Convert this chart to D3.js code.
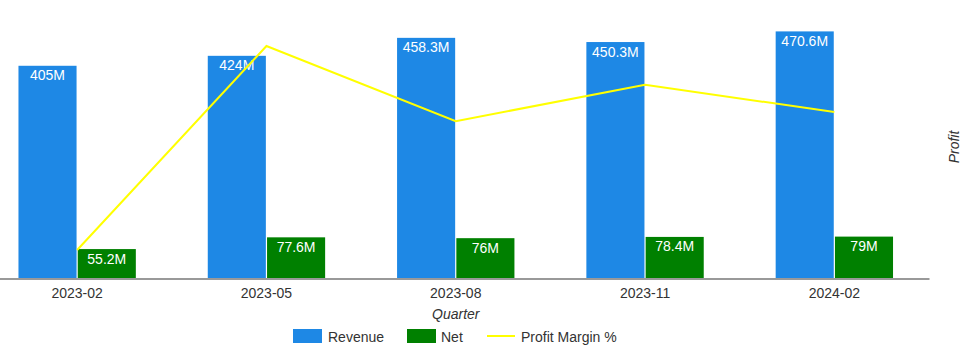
<!DOCTYPE html>
<html><head><meta charset="utf-8">
<script src="https://cdn.jsdelivr.net/npm/d3@7"></script>
<style>
body{margin:0;background:#fff;}
svg{display:block;font-family:"Liberation Sans",Arial,sans-serif;}
</style></head>
<body>
<svg id="chart" width="975" height="362"></svg>
<script>
const quarters = ["2023-02","2023-05","2023-08","2023-11","2024-02"];
const revenue = [405, 424, 458.3, 450.3, 470.6];
const net = [55.2, 77.6, 76, 78.4, 79];
const margin = [13.63, 18.30, 16.58, 17.41, 16.79];
const seriesNames = ["Revenue","Net","Profit Margin %"];
const colors = {Revenue:"#1e88e5", Net:"#008000", Margin:"#ffff00"};

const svg = d3.select("#chart");
const x = d3.scaleBand().domain(quarters).range([-17.5, 929]).paddingInner(0.38).paddingOuter(0.19);
const x1 = d3.scaleBand().domain(["Revenue","Net"]).range([0, x.bandwidth()]).paddingInner(0.02);
const y = d3.scaleLinear().domain([0, 500]).range([278, 16]);
const yR = d3.scaleLinear().domain([13.63, 18.30]).range([250, 46]);

const fmt = v => (Math.round(v*10)/10) + "M";

quarters.forEach((q,i)=>{
  const g = svg.append("g").attr("transform",`translate(${x(q)},0)`);
  [["Revenue",revenue[i]],["Net",net[i]]].forEach(([k,v])=>{
    g.append("rect").attr("x",x1(k)).attr("y",y(v)).attr("width",x1.bandwidth())
      .attr("height",y(0)-y(v)).attr("fill",colors[k]);
    g.append("text").attr("x",x1(k)+x1.bandwidth()/2).attr("y",y(v)+14.5)
      .attr("text-anchor","middle").attr("fill","#fff").attr("font-size",14).text(fmt(v));
  });
});

// axis
const xAxis = d3.axisBottom(x).tickSize(0).tickPadding(10);
const ax = svg.append("g").attr("transform","translate(0,278.5)").call(xAxis);
ax.select(".domain").attr("stroke","#777").attr("stroke-width",1.5);
ax.selectAll("text").attr("font-size",14).attr("fill","#333").attr("font-family","Liberation Sans, Arial, sans-serif");

svg.append("text").attr("x",(x.range()[0]+x.range()[1])/2).attr("y",319)
  .attr("text-anchor","middle").attr("font-style","italic").attr("font-size",14).attr("fill","#333").text("Quarter");

svg.append("text").attr("transform","translate(959,147) rotate(-90)")
  .attr("text-anchor","middle").attr("font-style","italic").attr("font-size",14).attr("fill","#333").text("Profit");

// line
const line = d3.line().x((d,i)=>x(quarters[i])+x.bandwidth()/2).y(d=>yR(d));
svg.append("path").datum(margin).attr("d",line).attr("fill","none")
  .attr("stroke",colors.Margin).attr("stroke-width",2);

// legend
const lg = svg.append("g");
lg.append("rect").attr("x",293).attr("y",329).attr("width",29).attr("height",14).attr("fill",colors.Revenue);
lg.append("text").attr("x",328).attr("y",342).attr("font-size",14).attr("fill","#333").text(seriesNames[0]);
lg.append("rect").attr("x",407).attr("y",329).attr("width",29).attr("height",14).attr("fill",colors.Net);
lg.append("text").attr("x",441).attr("y",342).attr("font-size",14).attr("fill","#333").text(seriesNames[1]);
lg.append("line").attr("x1",487).attr("x2",515).attr("y1",336).attr("y2",336).attr("stroke",colors.Margin).attr("stroke-width",2);
lg.append("text").attr("x",521).attr("y",342).attr("font-size",14).attr("fill","#333").text(seriesNames[2]);
</script>
</body></html>
